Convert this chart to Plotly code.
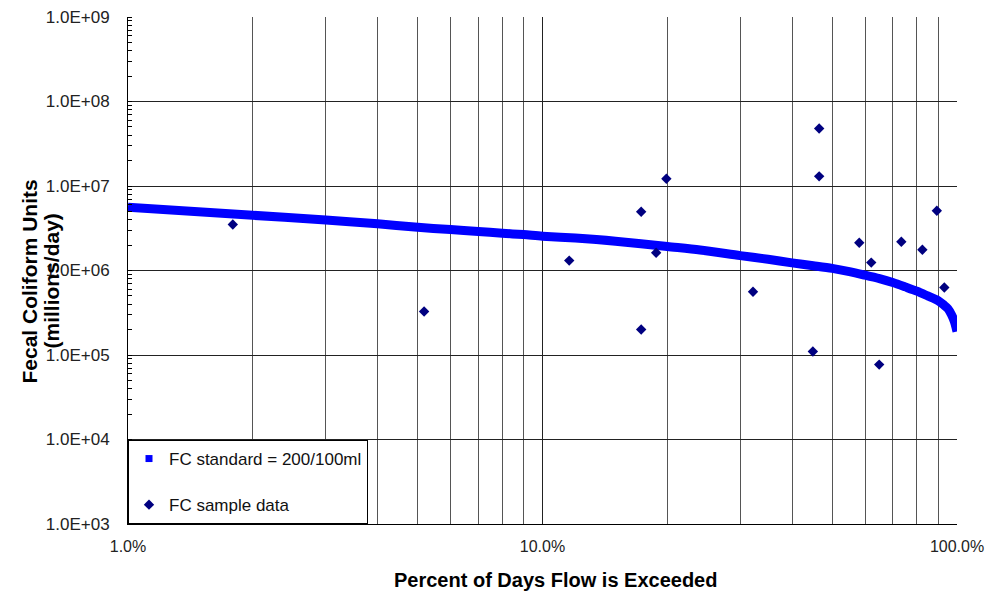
import plotly.graph_objects as go

# Load duration curve (percent of days exceeded vs load)
curve_pct = [1, 2, 3, 4, 5, 6, 7, 8, 9, 10, 12, 15, 20, 24, 30, 35, 40, 45, 50, 55, 60, 65, 70, 75, 80,
             85, 90, 93, 95, 97, 98.5, 99.5, 100]
curve_load = [5.6e6, 4.5e6, 3.95e6, 3.57e6, 3.25e6, 3.05e6, 2.9e6, 2.76e6, 2.66e6, 2.55e6, 2.42e6, 2.22e6,
              1.92e6, 1.75e6, 1.5e6, 1.36e6, 1.23e6, 1.14e6, 1.06e6, 9.7e5, 8.8e5, 8.0e5, 7.2e5, 6.4e5, 5.7e5,
              5.0e5, 4.4e5, 3.9e5, 3.55e5, 3.0e5, 2.5e5, 2.1e5, 1.9e5]

# FC sample data points
sample_pct = [1.79, 5.18, 11.6, 17.3, 17.3, 18.8, 19.9, 32.2, 44.9, 46.5, 46.5, 58.1, 62.1, 64.9, 73.4, 82.5, 89.4, 93.2]
sample_load = [3.5e6, 3.27e5, 1.31e6, 4.95e6, 2.0e5, 1.62e6, 1.22e7, 5.6e5, 1.1e5, 4.8e7, 1.3e7, 2.13e6,
               1.24e6, 7.7e4, 2.19e6, 1.76e6, 5.09e6, 6.3e5]

x_tickvals = [1, 10, 100]
x_ticktext = ['1.0%', '10.0%', '100.0%']
y_tickvals = [1e3, 1e4, 1e5, 1e6, 1e7, 1e8, 1e9]
y_ticktext = ['1.0E+03', '1.0E+04', '1.0E+05', '1.0E+06', '1.0E+07', '1.0E+08', '1.0E+09']

font = 'Liberation Sans, Arial, sans-serif'

fig = go.Figure()

# the standard curve as a thick line, legend entry drawn separately as a square
fig.add_trace(go.Scatter(
    x=curve_pct, y=curve_load, mode='lines',
    line=dict(color='#0000FF', width=9, shape='spline', smoothing=0.8),
    showlegend=False, hoverinfo='skip'
))
fig.add_trace(go.Scatter(
    x=[None], y=[None], mode='markers', name='FC standard = 200/100ml',
    marker=dict(symbol='square', color='#0000FF', size=7),
    legendgroup='a'
))
fig.add_trace(go.Scatter(
    x=sample_pct, y=sample_load, mode='markers', name='FC sample data',
    marker=dict(symbol='diamond', color='#000080', size=8),
    legendgroup='b'
))

fig.update_layout(
    width=987, height=592,
    margin=dict(l=128, r=30, t=17, b=68, autoexpand=False),
    paper_bgcolor='white', plot_bgcolor='white',
    font=dict(family=font, color='black'),
    legend=dict(
        x=0, y=0, xanchor='left', yanchor='bottom',
        bgcolor='white', bordercolor='black', borderwidth=1,
        font=dict(size=17, family=font, color='#111111'),
        tracegroupgap=21, itemsizing='trace', itemwidth=30
    ),
    xaxis=dict(
        type='log', range=[0, 2], automargin=False,
        tickvals=x_tickvals, ticktext=x_ticktext,
        tickfont=dict(size=16, color='#222222'),
        ticklabelstandoff=8,
        showgrid=True, gridcolor='#222222', gridwidth=1,
        minor=dict(dtick='D1', showgrid=True, gridcolor='#555555', gridwidth=1),
        showline=True, linecolor='black', linewidth=1,
        zeroline=False,
    ),
    yaxis=dict(
        type='log', range=[3, 9], automargin=False,
        tickvals=y_tickvals, ticktext=y_ticktext,
        tickfont=dict(size=17, color='#222222'),
        ticklabelstandoff=14,
        showgrid=True, gridcolor='#222222', gridwidth=1,
        minor=dict(dtick='D1', ticks='inside', ticklen=4, tickcolor='black', showgrid=False),
        showline=True, linecolor='black', linewidth=1,
        zeroline=False,
    ),
)

# axis titles placed as annotations so they sit where the original put them
fig.add_annotation(
    text='<b>Percent of Days Flow is Exceeded</b>', xref='paper', yref='paper',
    x=0.5, y=0, xshift=13, yshift=-56, xanchor='center', yanchor='middle',
    showarrow=False, font=dict(size=20, color='black', family=font)
)
for line_text, shift in [('Fecal Coliform Units', -99), ('(millions/day)', -77)]:
    fig.add_annotation(
        text=f'<b>{line_text}</b>', xref='paper', yref='paper',
        x=0, y=0.5, xshift=shift, yshift=-11, xanchor='center', yanchor='middle', textangle=-90,
        showarrow=False, font=dict(size=21, color='black', family=font)
    )

# drop the default page margin so the figure sits at the window's corner
fig.write_html('out.html', config={'displayModeBar': False},
               post_script="document.body.style.margin='0';")
